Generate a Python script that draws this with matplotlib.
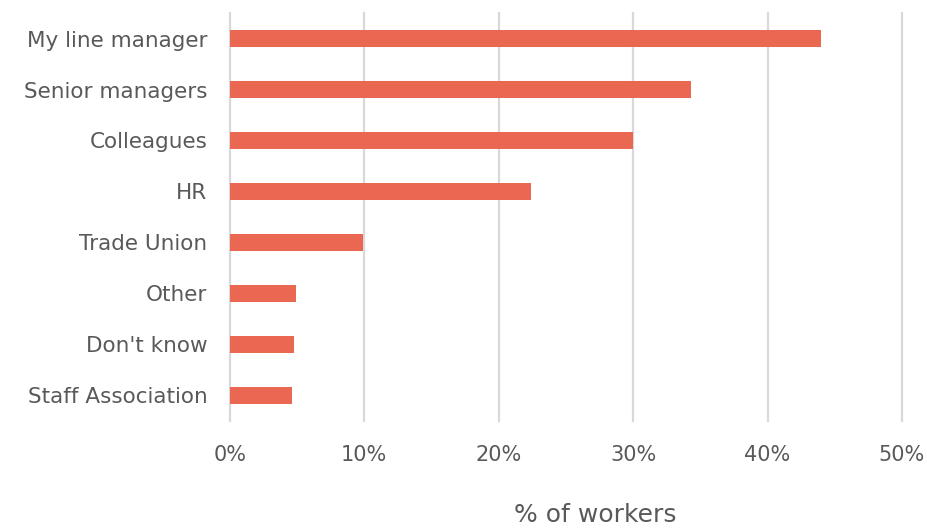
import matplotlib.pyplot as plt
from matplotlib.ticker import PercentFormatter

categories = ["My line manager", "Senior managers", "Colleagues", "HR",
              "Trade Union", "Other", "Don't know", "Staff Association"]
share = [44.0, 34.3, 30.0, 22.4, 9.9, 4.9, 4.8, 4.6]
xticks = [0, 10, 20, 30, 40, 50]

plt.rcParams['font.family'] = ['DejaVu Sans']
text_grey = '#595959'

fig = plt.figure(figsize=(9.27, 5.31), dpi=100)
ax = fig.add_axes([0.2478, 0.2072, 0.7252, 0.7683])

ypos = list(range(len(categories)))
ax.barh(ypos, share, height=0.34, color='#EA6852', zorder=3)
ax.set_yticks(ypos)
ax.set_yticklabels(categories)
ax.set_ylim(len(categories) - 0.5, -0.5)

ax.set_xlim(0, 50)
ax.set_xticks(xticks)
ax.xaxis.set_major_formatter(PercentFormatter(decimals=0))
ax.grid(axis='x', color='#D9D9D9', linewidth=1.6, zorder=0)
ax.set_axisbelow(True)
# keep the 0% and 50% gridlines full width at the axes edges
for gl in ax.get_xgridlines():
    gl.set_clip_on(False)

for s in ax.spines.values():
    s.set_visible(False)
ax.tick_params(axis='y', length=0, labelsize=15.5, colors=text_grey, pad=16)
ax.tick_params(axis='x', length=0, labelsize=15, colors=text_grey, pad=17)

# axis title sits well below the tick labels
fig.text(595 / 927, 1 - 515 / 531, '% of workers', fontsize=18,
         color=text_grey, ha='center', va='center')

fig.savefig('out.png', dpi=100)
